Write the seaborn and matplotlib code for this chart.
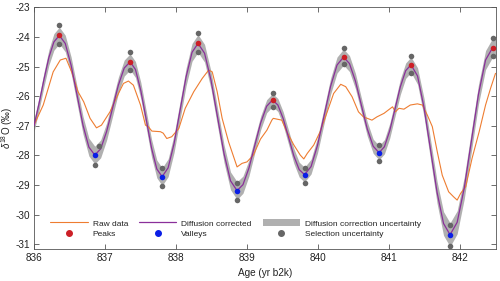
import matplotlib
matplotlib.use("Agg")
import matplotlib.pyplot as plt
import seaborn as sns
import numpy as np
import pandas as pd
from matplotlib.lines import Line2D
from matplotlib.patches import Patch

# ---------------- data ----------------
raw_age = [836.00, 836.13, 836.27, 836.37, 836.45, 836.53, 836.62, 836.70, 836.79, 836.88,
           836.95, 837.07, 837.19, 837.26, 837.33, 837.40, 837.50, 837.57, 837.61, 837.66,
           837.78, 837.82, 837.87, 837.94, 838.04, 838.13, 838.25, 838.37, 838.46, 838.51,
           838.58, 838.65, 838.74, 838.86, 838.93, 839.00, 839.09, 839.19, 839.28, 839.35,
           839.37, 839.49, 839.56, 839.66, 839.75, 839.80, 839.85, 839.94, 840.03, 840.13,
           840.22, 840.32, 840.39, 840.48, 840.57, 840.64, 840.76, 840.83, 840.93, 841.05,
           841.09, 841.14, 841.21, 841.30, 841.40, 841.47, 841.54, 841.61, 841.68, 841.75,
           841.84, 841.91, 841.96, 842.01, 842.08, 842.17, 842.27, 842.36, 842.43, 842.50]
raw_d18O = [-26.98, -26.30, -25.18, -24.78, -24.72, -25.18, -25.85, -26.19, -26.75, -27.07,
            -26.98, -26.53, -25.91, -25.57, -25.49, -25.63, -26.30, -26.98, -27.03, -27.18,
            -27.20, -27.25, -27.43, -27.37, -27.09, -26.41, -25.85, -25.40, -25.12, -25.18,
            -25.85, -26.75, -27.54, -28.39, -28.27, -28.22, -27.99, -27.45, -27.15, -26.81,
            -26.75, -26.81, -27.20, -27.65, -27.99, -28.12, -27.93, -27.65, -27.20, -26.53,
            -25.91, -25.60, -25.68, -26.02, -26.53, -26.70, -26.81, -26.70, -26.58, -26.36,
            -26.53, -26.41, -26.44, -26.30, -26.26, -26.30, -26.64, -27.03, -27.88, -28.67,
            -29.23, -29.40, -29.51, -29.28, -29.06, -28.10, -27.20, -26.30, -25.74, -25.23]

corr_age = [836.00, 836.07, 836.14, 836.21, 836.28, 836.357,
            836.44, 836.523, 836.607, 836.69, 836.773, 836.856,
            836.939, 837.022, 837.105, 837.188, 837.271, 837.354,
            837.429, 837.504, 837.58, 837.655, 837.73, 837.805,
            837.889, 837.973, 838.058, 838.142, 838.226, 838.31,
            838.402, 838.493, 838.585, 838.677, 838.768, 838.86,
            838.943, 839.027, 839.11, 839.193, 839.277, 839.36,
            839.435, 839.51, 839.585, 839.66, 839.735, 839.81,
            839.902, 839.993, 840.085, 840.177, 840.268, 840.36,
            840.443, 840.527, 840.61, 840.693, 840.777, 840.86,
            840.935, 841.01, 841.085, 841.16, 841.235, 841.31,
            841.402, 841.493, 841.585, 841.677, 841.768, 841.86,
            841.96, 842.06, 842.16, 842.26, 842.36, 842.46,
            842.50]
corr_d18O = [-27.00, -26.26, -25.44, -24.69, -24.17, -23.95,
             -24.22, -24.96, -25.97, -26.98, -27.72, -27.99,
             -27.78, -27.20, -26.42, -25.63, -25.05, -24.84,
             -25.10, -25.81, -26.78, -27.75, -28.46, -28.72,
             -28.42, -27.60, -26.47, -25.35, -24.52, -24.22,
             -24.55, -25.46, -26.71, -27.95, -28.86, -29.19,
             -28.99, -28.43, -27.66, -26.90, -26.34, -26.13,
             -26.30, -26.76, -27.39, -28.02, -28.48, -28.65,
             -28.38, -27.66, -26.67, -25.67, -24.95, -24.68,
             -24.90, -25.49, -26.30, -27.10, -27.69, -27.91,
             -27.71, -27.17, -26.43, -25.68, -25.14, -24.94,
             -25.32, -26.38, -27.81, -29.25, -30.30, -30.68,
             -30.26, -29.10, -27.52, -25.94, -24.78, -24.36,
             -24.40]
corr_unc = [0.20, 0.22, 0.24, 0.26, 0.28, 0.28,
            0.28, 0.28, 0.29, 0.30, 0.30, 0.30,
            0.30, 0.29, 0.28, 0.27, 0.27, 0.27,
            0.27, 0.28, 0.29, 0.30, 0.30, 0.30,
            0.30, 0.30, 0.30, 0.30, 0.30, 0.30,
            0.30, 0.30, 0.30, 0.30, 0.30, 0.30,
            0.29, 0.27, 0.25, 0.23, 0.22, 0.22,
            0.22, 0.23, 0.24, 0.25, 0.25, 0.25,
            0.25, 0.26, 0.26, 0.27, 0.27, 0.27,
            0.27, 0.26, 0.25, 0.24, 0.24, 0.24,
            0.24, 0.25, 0.25, 0.26, 0.26, 0.26,
            0.28, 0.31, 0.34, 0.37, 0.40, 0.40,
            0.39, 0.37, 0.35, 0.33, 0.32, 0.32,
            0.32]

peak_age = [836.357, 837.354, 838.31, 839.36, 840.36, 841.31, 842.46]
peak_d18O = [-23.95, -24.84, -24.22, -26.13, -24.68, -24.94, -24.36]
valley_age = [836.856, 837.805, 838.86, 839.81, 840.86, 841.86]
valley_d18O = [-27.99, -28.72, -29.19, -28.65, -27.91, -30.68]

sel_age = [836.357, 837.354, 838.31, 839.36, 840.36, 841.31, 842.46,
           836.357, 837.354, 838.31, 839.36, 840.36, 841.31, 842.46,
           836.91, 837.805, 838.86, 839.81, 840.86, 841.86,
           836.856, 837.805, 838.86, 839.81, 840.86, 841.86]
sel_d18O = [-23.61, -24.52, -23.87, -25.90, -24.39, -24.65, -24.04,
            -24.25, -25.11, -24.52, -26.37, -24.93, -25.21, -24.66,
            -27.70, -28.43, -28.94, -28.42, -27.66, -30.34,
            -28.32, -29.05, -29.50, -28.93, -28.18, -31.06]

x_ticks = [836, 837, 838, 839, 840, 841, 842]
y_ticks = [-31, -30, -29, -28, -27, -26, -25, -24, -23]

# ---------------- styling ----------------
sns.set_style("ticks")
plt.rcParams["font.family"] = ["Liberation Sans", "DejaVu Sans"]
plt.rcParams["mathtext.fontset"] = "custom"
plt.rcParams["mathtext.rm"] = "Liberation Sans"
plt.rcParams["mathtext.it"] = "Liberation Sans:italic"

C_RAW = "#ee7d31"
C_CORR = "#8a2f9a"
C_BAND = "#b0b0b0"
C_PEAK = "#cc1f26"
C_VAL = "#0a1ee6"
C_SEL = "#666666"

fig = plt.figure(figsize=(5.0, 2.81), dpi=100)
ax = fig.add_axes([0.068, 0.113, 0.923, 0.861])

corr_df = pd.DataFrame({"age": corr_age, "d18O": corr_d18O, "unc": corr_unc})
raw_df = pd.DataFrame({"age": raw_age, "d18O": raw_d18O})

ax.fill_between(corr_df["age"], corr_df["d18O"] - corr_df["unc"],
                corr_df["d18O"] + corr_df["unc"], color=C_BAND, lw=0, zorder=1)
sns.lineplot(data=raw_df, x="age", y="d18O", ax=ax, color=C_RAW, lw=0.8,
             sort=False, estimator=None, zorder=2)
sns.lineplot(data=corr_df, x="age", y="d18O", ax=ax, color=C_CORR, lw=0.9,
             sort=False, estimator=None, zorder=3)
sns.scatterplot(x=sel_age, y=sel_d18O, ax=ax, color=C_SEL, s=16, linewidth=0, zorder=4)
sns.scatterplot(x=peak_age, y=peak_d18O, ax=ax, color=C_PEAK, s=16, linewidth=0, zorder=5)
sns.scatterplot(x=valley_age, y=valley_d18O, ax=ax, color=C_VAL, s=16, linewidth=0, zorder=5)

ax.set_xlim(836, 842.5)
ax.set_ylim(-31.17, -23)
ax.set_xticks(x_ticks)
ax.set_yticks(y_ticks)
ax.set_xticklabels([str(t) for t in x_ticks])
ax.set_yticklabels([str(t) for t in y_ticks])
ax.tick_params(direction="in", length=3.4, width=0.6, labelsize=7.2, colors="#222222",
               top=True, right=True, pad=3)
ax.tick_params(color="#555555")
for s in ax.spines.values():
    s.set_visible(True)
    s.set_linewidth(0.6)
    s.set_color("#555555")

ax.set_xlabel("Age (yr b2k)", fontsize=7.2, color="#222222", labelpad=3)
ax.set_ylabel(r"$\delta^{18}$O (‰)", fontsize=7.0, color="#222222", labelpad=0)

handles = [
    Line2D([], [], color=C_RAW, lw=0.8),
    Line2D([], [], ls="none", marker="o", color=C_PEAK, ms=4),
    Line2D([], [], color=C_CORR, lw=0.9),
    Line2D([], [], ls="none", marker="o", color=C_VAL, ms=4),
    Patch(facecolor=C_BAND, edgecolor="none"),
    Line2D([], [], ls="none", marker="o", color=C_SEL, ms=4),
]
labels = ["Raw data", "Peaks", "Diffusion corrected", "Valleys",
          "Diffusion correction uncertainty", "Selection uncertainty"]
leg = ax.legend(handles, labels, ncol=3, loc="lower left",
                bbox_to_anchor=(0.035, 0.045), frameon=False, fontsize=6,
                handlelength=4.5, handleheight=0.9, handletextpad=0.6,
                columnspacing=1.3, labelspacing=0.3, borderpad=0, borderaxespad=0)
for t in leg.get_texts():
    t.set_color("#222222")

fig.savefig("out.png", dpi=100)
